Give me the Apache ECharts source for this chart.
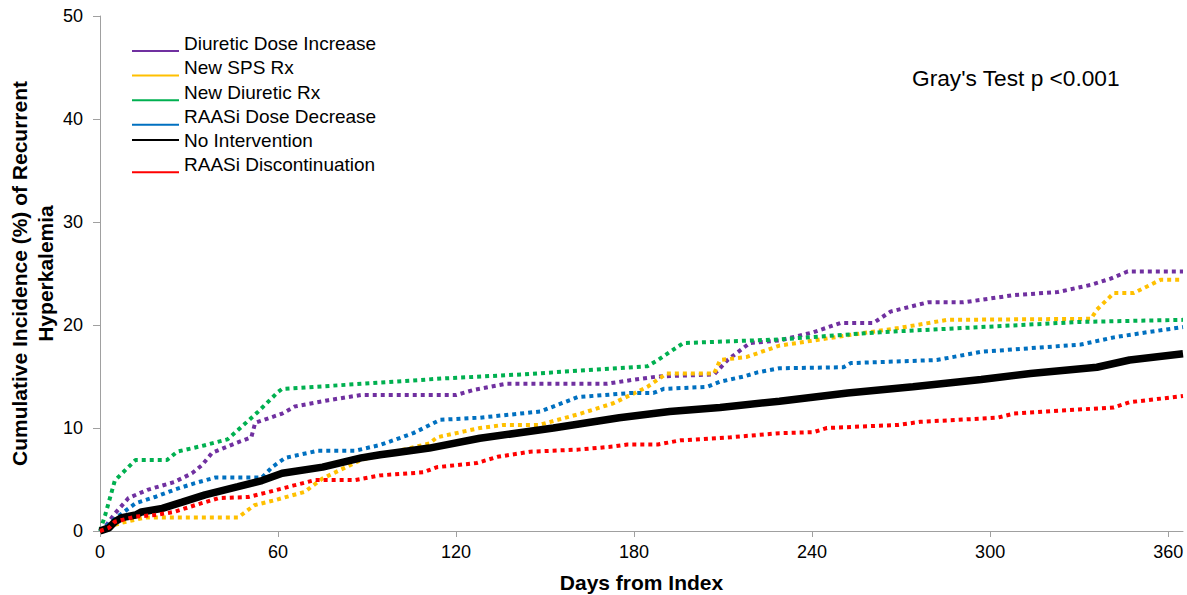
<!DOCTYPE html>
<html>
<head>
<meta charset="utf-8">
<script src="https://cdn.jsdelivr.net/npm/echarts@6/dist/echarts.min.js"></script>
<style>
  html, body { margin: 0; padding: 0; background: #fff; }
  #chart { width: 1187px; height: 595px; }
</style>
</head>
<body>
<div id="chart"></div>
<script>
// ---- Data (day, cumulative incidence %) ----
const seriesNames = ['Diuretic Dose Increase', 'New SPS Rx', 'New Diuretic Rx', 'RAASi Dose Decrease', 'No Intervention', 'RAASi Discontinuation'];
const xTickLabels = [0, 60, 120, 180, 240, 300, 360];
const yTickLabels = [0, 10, 20, 30, 40, 50];

const diureticDoseIncrease = [[0,0],[2,0.5],[5,1.7],[9.6,3.2],[16,4.0],[25,4.75],[31,5.6],[34.4,6.4],[37.8,7.6],[45.5,8.5],[51,9.1],[52.3,10.5],[61.4,11.4],[65.8,12.1],[77,12.7],[88,13.2],[120,13.2],[126,13.7],[137,14.3],[171,14.3],[180,14.7],[188,15.0],[207,15.2],[211.5,16.6],[219,18.25],[229,18.5],[240.5,19.3],[249.6,20.2],[260.7,20.2],[266.4,21.3],[279,22.2],[291,22.2],[308,22.9],[322.8,23.2],[334,23.9],[340.6,24.5],[346.4,25.2],[365,25.2]];
const newSpsRx = [[0,0],[2,0.3],[5,0.6],[7.4,0.8],[15,1.3],[46.5,1.3],[52,2.5],[59,3.0],[69,3.8],[75,5.1],[88,6.9],[99.5,7.7],[111,8.5],[113.6,9.1],[128,10.0],[136,10.3],[148,10.3],[162,11.4],[173,12.4],[184.5,14.0],[191,15.3],[207,15.3],[209,16.6],[218,16.9],[229,18.0],[236,18.3],[252,19.0],[269,19.7],[285.6,20.5],[334,20.6],[336,21.5],[341.7,23.1],[348.4,23.1],[357.5,24.4],[365,24.4]];
const newDiureticRx = [[0,0],[1.7,1.5],[5,4.9],[12,6.9],[22.6,6.9],[26,7.7],[35,8.3],[43,8.9],[46.5,9.8],[53,11.5],[60,13.5],[61.4,13.8],[94.4,14.4],[115,14.8],[142,15.2],[184.5,16.0],[188,16.6],[196.6,18.25],[229,18.6],[263,19.3],[297,19.8],[330.5,20.3],[365,20.5]];
const raasiDoseDecrease = [[0,0],[1.7,0.4],[6,1.4],[12,2.7],[18.5,3.3],[25,4.0],[32,4.65],[39,5.2],[54.6,5.2],[58,6.2],[62.4,7.1],[73.5,7.8],[86,7.8],[94.4,8.35],[105.6,9.5],[114.7,10.8],[128,11.0],[148.4,11.6],[161,13.0],[178.8,13.4],[186.5,13.4],[190,13.8],[204.7,14.0],[209,14.5],[217,15.0],[221.6,15.4],[229,15.8],[250.6,15.9],[253,16.3],[282,16.6],[297,17.4],[330.5,18.1],[341.7,18.8],[353,19.3],[365,19.8]];
const noIntervention = [[0,0],[3,0.3],[5,0.9],[7.4,1.3],[12,1.55],[14,1.85],[21,2.2],[27.7,2.8],[35.4,3.5],[46.5,4.3],[54.6,4.9],[61.4,5.6],[75,6.2],[88,7.1],[94.4,7.4],[99.5,7.6],[111,8.05],[128,9.0],[152.8,10.0],[175,11.0],[192,11.6],[209,12.0],[229,12.6],[252,13.4],[274,14.0],[297,14.7],[313.6,15.3],[336,15.9],[347,16.6],[365,17.2]];
const raasiDiscontinuation = [[0,0],[3,0.3],[5,0.9],[12,1.4],[18.5,1.55],[25,1.85],[32,2.5],[40,3.2],[50,3.3],[57,3.8],[65,4.4],[72.5,4.95],[86,4.95],[94.4,5.4],[109,5.7],[113.6,6.2],[127,6.6],[134,7.2],[145,7.7],[161,7.9],[173,8.2],[177.7,8.4],[188,8.4],[195.6,8.8],[212.5,9.1],[229,9.5],[240.5,9.6],[245,10.0],[269,10.3],[276.5,10.6],[302.5,11.0],[308,11.4],[341.7,12.0],[347,12.5],[365,13.1]];

const seriesData = [diureticDoseIncrease, newSpsRx, newDiureticRx, raasiDoseDecrease, noIntervention, raasiDiscontinuation];
const seriesColors = ['#7030A0', '#FFC000', '#00B050', '#0070C0', '#000000', '#FF0000'];

const FONT = "'Liberation Sans', Arial, sans-serif";

const series = seriesNames.map((name, i) => {
  const solid = name === 'No Intervention';
  return {
    name: name,
    type: 'line',
    data: seriesData[i],
    symbol: 'none',
    showSymbol: false,
    smooth: false,
    lineStyle: solid
      ? { color: seriesColors[i], width: 7.5, type: 'solid' }
      : { color: seriesColors[i], width: 4, type: [4, 4], cap: 'butt' },
    itemStyle: { color: seriesColors[i] },
    emphasis: { disabled: true },
    z: 2 + i
  };
});

const legendTextBase = { fontFamily: FONT, fontSize: 19, color: '#000', lineHeight: 20 };

function makeLegend(names, top, raised) {
  const lg = {
    orient: 'vertical',
    left: 131,
    top: top,
    padding: 0,
    itemWidth: 47,
    itemHeight: 14,
    itemGap: -10.4,
    selectedMode: false,
    itemStyle: { opacity: 0, color: 'rgba(0,0,0,0)', borderWidth: 0 },
    lineStyle: { type: 'solid' },
    data: names
  };
  if (raised) {
    lg.formatter = name => '{c|' + name + '}';
    lg.textStyle = Object.assign({}, legendTextBase, {
      rich: { c: Object.assign({}, legendTextBase, { padding: [0, 0, 16, 0] }) }
    });
  } else {
    lg.textStyle = Object.assign({}, legendTextBase);
  }
  return lg;
}

const chart = echarts.init(document.getElementById('chart'), null, { renderer: 'svg' });
chart.setOption({
  animation: false,
  backgroundColor: '#ffffff',
  textStyle: { fontFamily: FONT },
  title: {
    text: "Gray's Test p <0.001",
    left: 912,
    top: 66,
    padding: 0,
    textStyle: { fontFamily: FONT, fontSize: 22.7, fontWeight: 'normal', color: '#000', lineHeight: 24 }
  },
  legend: [
    makeLegend(seriesNames.slice(0, 4), 33.5, true),
    makeLegend([seriesNames[4]], 130, false),
    makeLegend([seriesNames[5]], 154.7, true)
  ],
  grid: { left: 100, right: 4, top: 16, bottom: 64, containLabel: false, outerBoundsMode: 'none' },
  xAxis: {
    type: 'value',
    min: 0,
    max: 365,
    interval: 60,
    name: 'Days from Index',
    nameLocation: 'middle',
    nameGap: 41,
    nameMoveOverlap: false,
    nameTextStyle: { fontFamily: FONT, fontSize: 21, fontWeight: 'bold', color: '#000', lineHeight: 20 },
    axisLine: { show: true, lineStyle: { color: '#A0A0A0', width: 1 } },
    axisTick: { show: true, length: 6, inside: false, lineStyle: { color: '#A0A0A0' }, customValues: xTickLabels },
    axisLabel: {
      margin: 12,
      fontFamily: FONT, fontSize: 18, color: '#000',
      customValues: xTickLabels,
      formatter: v => (xTickLabels.indexOf(v) >= 0 ? String(v) : '')
    },
    splitLine: { show: false }
  },
  yAxis: {
    type: 'value',
    min: 0,
    max: 50,
    interval: 10,
    name: 'Cumulative Incidence (%) of Recurrent\nHyperkalemia',
    nameLocation: 'middle',
    nameGap: 42,
    nameMoveOverlap: false,
    nameTextStyle: { fontFamily: FONT, fontSize: 21, fontWeight: 'bold', color: '#000', lineHeight: 26, align: 'center' },
    axisLine: { show: true, lineStyle: { color: '#A0A0A0', width: 1 } },
    axisTick: { show: true, length: 7, inside: false, lineStyle: { color: '#A0A0A0' } },
    axisLabel: {
      margin: 17,
      fontFamily: FONT, fontSize: 18, color: '#000',
      formatter: v => (yTickLabels.indexOf(v) >= 0 ? String(v) : '')
    },
    splitLine: { show: false }
  },
  series: series
});
</script>
</body>
</html>
